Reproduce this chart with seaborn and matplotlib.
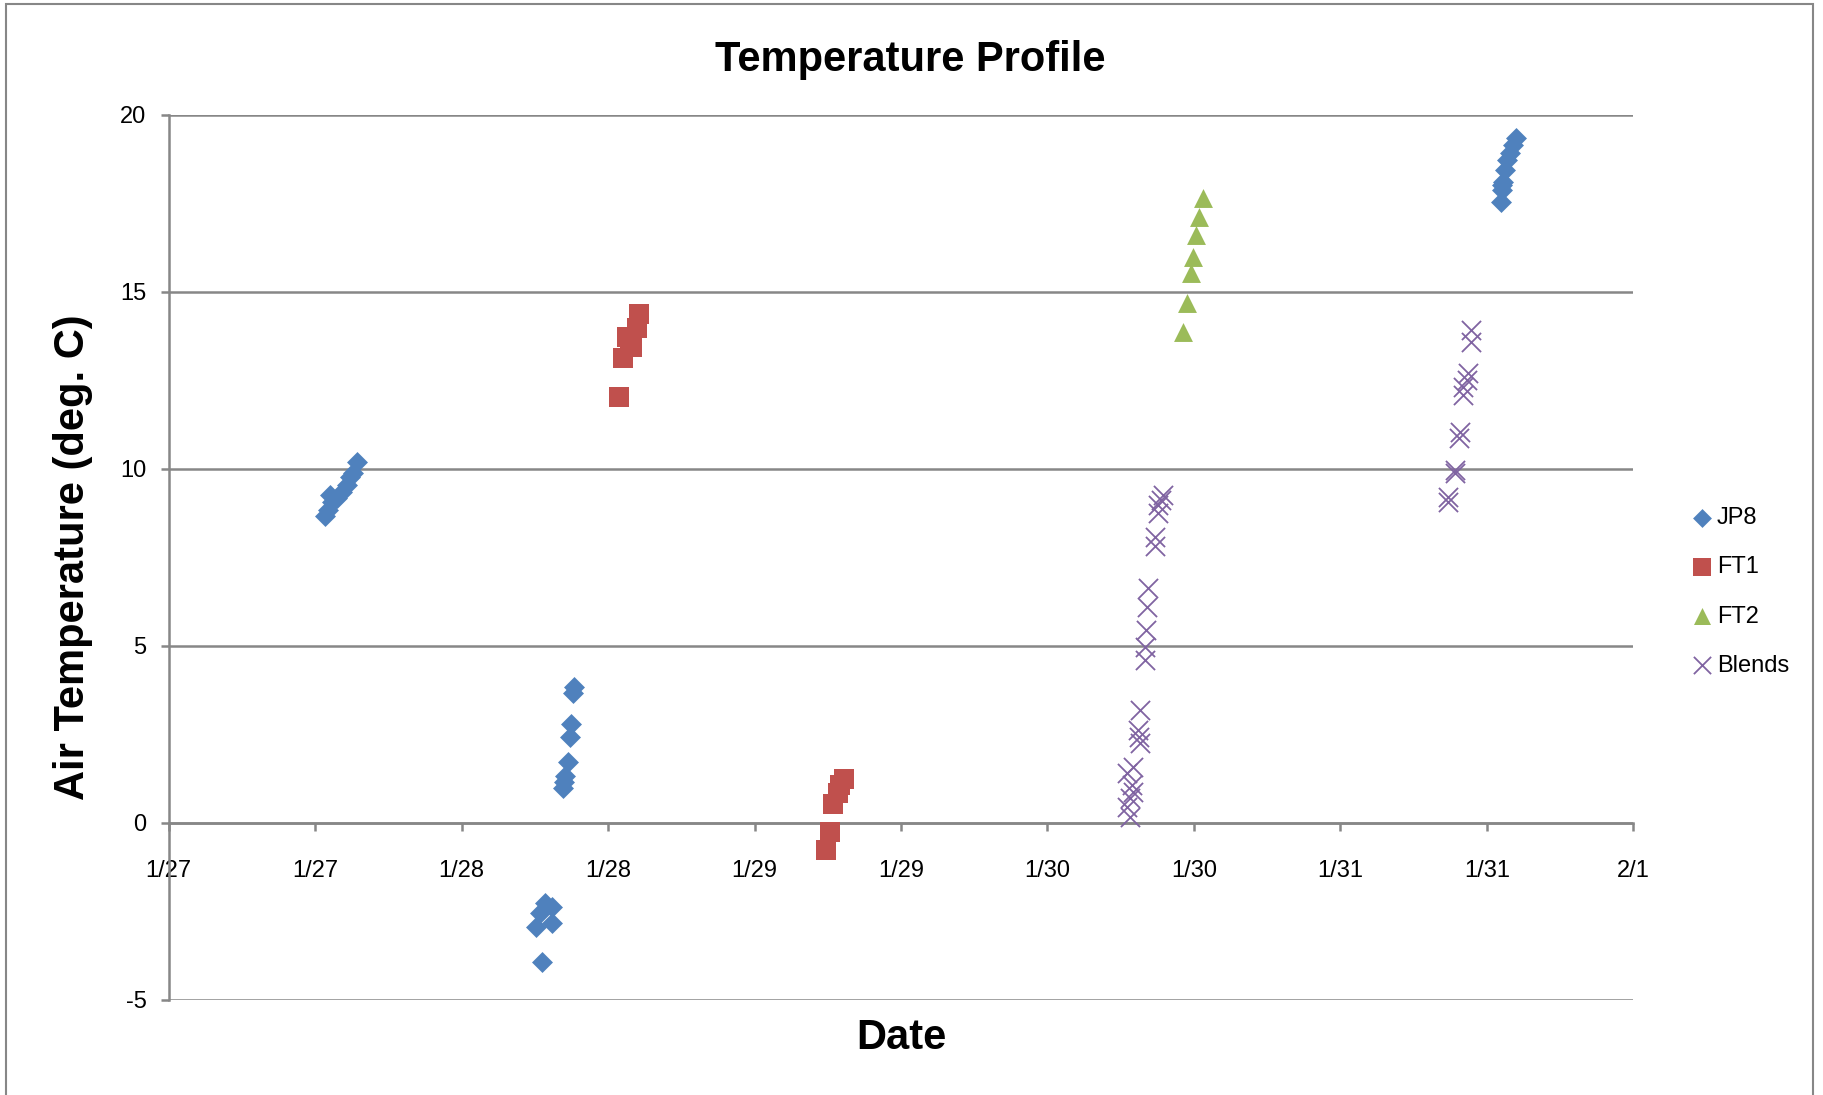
import numpy as np
import pandas as pd
import seaborn as sns
import matplotlib.pyplot as plt
import matplotlib.dates as mdates
from matplotlib.ticker import FuncFormatter
from matplotlib.patches import Rectangle

# readings
jp8_time = ["2009-01-27 12:49", "2009-01-27 13:05", "2009-01-27 13:13", "2009-01-27 13:22",
            "2009-01-27 13:46", "2009-01-27 14:11", "2009-01-27 14:35", "2009-01-27 14:51",
            "2009-01-27 15:07", "2009-01-27 15:24",
            "2009-01-28 06:06", "2009-01-28 06:26", "2009-01-28 06:33", "2009-01-28 06:50",
            "2009-01-28 07:22", "2009-01-28 07:24", "2009-01-28 08:20", "2009-01-28 08:22",
            "2009-01-28 08:28", "2009-01-28 08:44", "2009-01-28 08:53", "2009-01-28 08:57",
            "2009-01-28 09:09", "2009-01-28 09:13",
            "2009-01-31 13:12", "2009-01-31 13:09", "2009-01-31 13:16", "2009-01-31 13:19",
            "2009-01-31 13:28", "2009-01-31 13:39", "2009-01-31 13:52", "2009-01-31 14:08",
            "2009-01-31 14:23"]
jp8_temp = [8.66, 8.83, 9.26, 9.07, 9.16, 9.35, 9.54, 9.77, 9.87, 10.20,
            -2.94, -2.56, -3.93, -2.28, -2.37, -2.84, 0.97, 1.16, 1.32, 1.72, 2.43, 2.79, 3.65, 3.84,
            18.00, 17.54, 17.87, 18.10, 18.44, 18.72, 18.91, 19.14, 19.33]

ft1_time = ["2009-01-28 12:53", "2009-01-28 13:12", "2009-01-28 13:31", "2009-01-28 13:48",
            "2009-01-28 13:57", "2009-01-28 14:21", "2009-01-28 14:31",
            "2009-01-29 05:50", "2009-01-29 06:10", "2009-01-29 06:25", "2009-01-29 06:49",
            "2009-01-29 06:58", "2009-01-29 07:21"]
ft1_temp = [12.03, 13.12, 13.73, 13.64, 13.45, 13.97, 14.37,
            -0.77, -0.25, 0.52, 0.83, 1.06, 1.23]

ft2_time = ["2009-01-30 11:07", "2009-01-30 11:24", "2009-01-30 11:43", "2009-01-30 11:56",
            "2009-01-30 12:09", "2009-01-30 12:26", "2009-01-30 12:42"]
ft2_temp = [13.87, 14.67, 15.52, 15.97, 16.60, 17.12, 17.64]

blend_time = ["2009-01-30 06:29", "2009-01-30 06:29", "2009-01-30 06:45", "2009-01-30 06:45",
              "2009-01-30 06:53", "2009-01-30 07:01", "2009-01-30 07:01", "2009-01-30 07:26",
              "2009-01-30 07:29", "2009-01-30 07:34", "2009-01-30 07:34", "2009-01-30 07:58",
              "2009-01-30 07:58", "2009-01-30 08:04", "2009-01-30 08:07", "2009-01-30 08:12",
              "2009-01-30 08:48", "2009-01-30 08:48", "2009-01-30 09:04", "2009-01-30 09:04",
              "2009-01-30 09:17", "2009-01-30 09:29",
              "2009-01-31 08:50", "2009-01-31 08:50", "2009-01-31 09:22", "2009-01-31 09:22",
              "2009-01-31 09:43", "2009-01-31 09:46", "2009-01-31 10:03", "2009-01-31 10:03",
              "2009-01-31 10:20", "2009-01-31 10:28", "2009-01-31 10:44", "2009-01-31 10:44"]
blend_temp = [0.45, 1.40, 0.17, 0.69, 1.06, 0.88, 1.58, 2.62, 2.43, 2.24, 3.18, 4.60,
              4.97, 5.44, 6.10, 6.62, 7.82, 8.08, 8.74, 8.97, 9.12, 9.26,
              9.07, 9.21, 9.87, 9.96, 10.86, 11.05, 12.08, 12.32, 12.50, 12.69, 13.59, 13.92]

series = ["JP8", "FT1", "FT2", "Blends"]
colors = ["#4F81BD", "#C0504D", "#9BBB59", "#8064A2"]

sns.set_style("white")
plt.rcParams['font.family'] = ['Liberation Sans', 'DejaVu Sans']
plt.rcParams['axes.unicode_minus'] = False
plt.rcParams['text.color'] = 'black'
plt.rcParams['axes.labelcolor'] = 'black'
plt.rcParams['xtick.color'] = 'black'
plt.rcParams['ytick.color'] = 'black'

grey = "#878787"

fig = plt.figure(figsize=(18.23, 10.95), dpi=100)
ax = fig.add_axes([0.0925, 0.087, 0.8035, 0.8083])

data = [(jp8_time, jp8_temp, "D", 114),
        (ft1_time, ft1_temp, "s", 200),
        (ft2_time, ft2_temp, "^", 185),
        (blend_time, blend_temp, "x", 190)]

for (t, v, m, s), name, c in zip(data, series, colors):
    df = pd.DataFrame({"Date": pd.to_datetime(t), "Temp": v})
    if m == "x":
        sns.scatterplot(data=df, x="Date", y="Temp", marker=m, s=s, color=c,
                        linewidth=1.3, label=name, ax=ax, zorder=3)
    else:
        sns.scatterplot(data=df, x="Date", y="Temp", marker=m, s=s, color=c,
                        edgecolor=c, linewidth=0, label=name, ax=ax, zorder=3)

ax.set_xlim(pd.Timestamp("2009-01-27"), pd.Timestamp("2009-02-01"))
ax.set_ylim(-5, 20)
ax.set_yticks(range(-5, 21, 5))
ax.xaxis.set_major_locator(mdates.HourLocator(byhour=[0, 12]))
ax.xaxis.set_major_formatter(FuncFormatter(
    lambda v, p: f"{mdates.num2date(v).month}/{mdates.num2date(v).day}"))

ax.yaxis.grid(True, color=grey, linewidth=1.8)
ax.xaxis.grid(False)
ax.set_axisbelow(True)

for side in ["top", "right"]:
    ax.spines[side].set_visible(False)
ax.spines["bottom"].set_position(("data", 0))
for side in ["left", "bottom"]:
    ax.spines[side].set_color(grey)
    ax.spines[side].set_linewidth(1.8)

ax.tick_params(axis="x", direction="out", length=6, width=1.8, color=grey,
               labelcolor="black", labelsize=17, pad=21, bottom=True)
ax.tick_params(axis="y", direction="out", length=6, width=1.8, color=grey,
               labelcolor="black", labelsize=17, pad=10, left=True)

ax.set_xlabel("Date", fontsize=30, fontweight="bold")
ax.xaxis.set_label_coords(0.5, -0.0435)
ax.xaxis.label.set_verticalalignment("center")
ax.set_ylabel("Air Temperature (deg. C)", fontsize=30, fontweight="bold")
ax.yaxis.set_label_coords(-0.065, 0.5)
ax.yaxis.label.set_verticalalignment("center")

fig.text(910 / 1823, 1 - 71 / 1095, "Temperature Profile", fontsize=30,
         fontweight="bold", ha="center", va="baseline")

ax.legend(loc="center left", bbox_to_anchor=(0.9205, 0.4594),
          bbox_transform=fig.transFigure, frameon=False, fontsize=17,
          handlelength=1, handletextpad=0.15, labelspacing=1.15, borderpad=0,
          markerscale=0.9)

# outer chart border
fig.patches.append(Rectangle((5.7 / 1823, -0.01), (1813 - 5.7) / 1823, 1.01 - 4 / 1095,
                             transform=fig.transFigure, fill=False,
                             edgecolor=grey, linewidth=1.5))

fig.savefig("out.png", dpi=100)
